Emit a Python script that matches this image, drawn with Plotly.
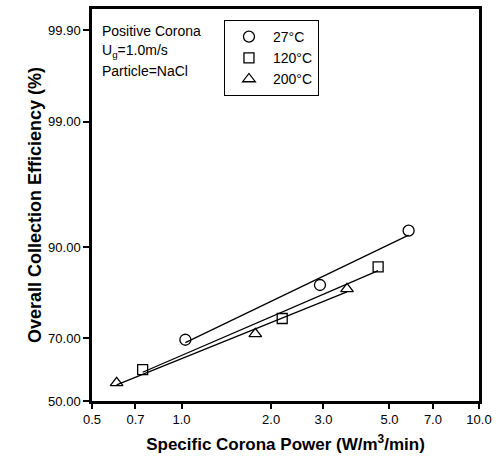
import numpy as np
import plotly.graph_objects as go
from statistics import NormalDist

nd = NormalDist()

def z(p):
    return nd.inv_cdf(p / 100.0)

# Data
series_names = ["27°C", "120°C", "200°C"]
x_27 = [1.03, 2.92, 5.80]
y_27 = [69.5, 83.3, 92.2]
x_120 = [0.74, 2.18, 4.58]
y_120 = [60.3, 75.4, 86.8]
x_200 = [0.605, 1.77, 3.60]
y_200 = [56.0, 71.2, 82.5]

x_tick_vals = [0.5, 0.7, 1.0, 2.0, 3.0, 5.0, 7.0, 10.0]
x_tick_text = ["0.5", "0.7", "1.0", "2.0", "3.0", "5.0", "7.0", "10.0"]
y_tick_vals = [50.0, 70.0, 90.0, 99.0, 99.9]
y_tick_text = ["50.00", "70.00", "90.00", "99.00", "99.90"]

symbols = ["circle-open", "square-open", "triangle-up-open"]
sizes = [11, 10, 11]

fig = go.Figure()
font = "Liberation Sans, Arial, sans-serif"

for name, xs, ys, sym, sz in zip(series_names, [x_27, x_120, x_200], [y_27, y_120, y_200], symbols, sizes):
    lx = np.log10(xs)
    lz = np.array([z(v) for v in ys])
    a, b = np.polyfit(lx, lz, 1)
    xl = np.array([min(xs), max(xs)])
    zl = a * np.log10(xl) + b
    fig.add_trace(go.Scatter(x=xl, y=zl, mode="lines", line=dict(color="black", width=1.3),
                             showlegend=False, hoverinfo="skip"))
    fig.add_trace(go.Scatter(x=xs, y=[z(v) for v in ys], mode="markers", name=name,
                             marker=dict(symbol=sym, size=sz, color="black", line=dict(width=1.3, color="black"))))

fig.update_layout(
    width=503, height=469,
    margin=dict(l=92, r=24, t=6, b=68),
    paper_bgcolor="white", plot_bgcolor="white",
    font=dict(family=font, color="black", size=13),
    legend=dict(x=0.341, y=0.972, xanchor="left", yanchor="top",
                bordercolor="black", borderwidth=1, bgcolor="white",
                font=dict(size=14, family=font), itemwidth=38, tracegroupgap=0),
    showlegend=True,
)

fig.update_xaxes(type="log", range=[np.log10(0.5), np.log10(10.0)],
                 tickvals=x_tick_vals, ticktext=x_tick_text,
                 ticks="outside", ticklen=5, tickwidth=2, tickcolor="black",
                 showline=True, linewidth=2.5, linecolor="black", mirror=True,
                 showgrid=False, zeroline=False,
                 tickfont=dict(size=13, family=font),
                 title=dict(text="<b>Specific Corona Power (W/m<sup>3</sup>/min)</b>",
                            font=dict(size=17, family=font), standoff=12))

fig.update_yaxes(range=[0, 3.265],
                 tickvals=[z(v) for v in y_tick_vals], ticktext=y_tick_text,
                 ticks="outside", ticklen=6, tickwidth=2, tickcolor="black",
                 showline=True, linewidth=2.5, linecolor="black", mirror=True,
                 showgrid=False, zeroline=False,
                 tickfont=dict(size=13, family=font),
                 title=dict(text="<b>Overall Collection Efficiency (%)</b>",
                            font=dict(size=18, family=font), standoff=2))

ann = ["Positive Corona", "U<sub>g</sub>=1.0m/s", "Particle=NaCl"]
for i, t in enumerate(ann):
    fig.add_annotation(xref="paper", yref="paper", x=0.02, y=(401 - 28 - 20 * i) / 395,
                       text=t, showarrow=False, xanchor="left", yanchor="middle",
                       font=dict(size=14, family=font))

fig.write_html("out.html", config={"displayModeBar": False},
               post_script="document.body.style.margin='0';")
